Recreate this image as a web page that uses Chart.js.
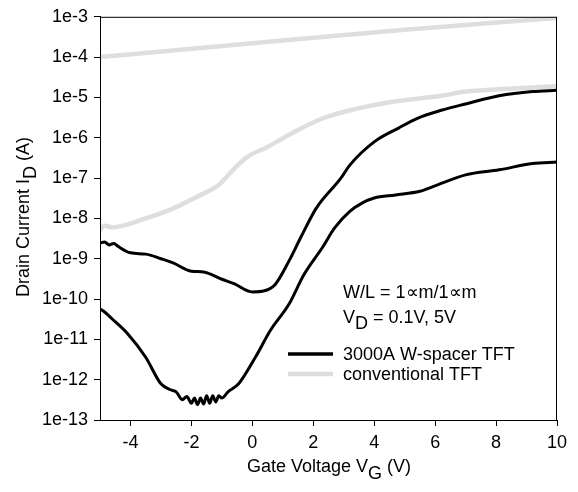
<!DOCTYPE html>
<html>
<head>
<meta charset="utf-8">
<script src="https://cdn.jsdelivr.net/npm/chart.js@4.4.1/dist/chart.umd.min.js"></script>
<style>
  body { margin: 0; background: #fff; }
  canvas { display: block; }
</style>
</head>
<body>
<canvas id="idvg" width="578" height="492"></canvas>
<script>
// tick positions / labels
const xTickValues = [-4, -2, 0, 2, 4, 6, 8, 10];
const yTickValues = [1e-13, 1e-12, 1e-11, 1e-10, 1e-9, 1e-8, 1e-7, 1e-6, 1e-5, 1e-4, 1e-3];
const yTickLabels = ["1e-13", "1e-12", "1e-11", "1e-10", "1e-9", "1e-8", "1e-7", "1e-6", "1e-5", "1e-4", "1e-3"];

// 3000A W-spacer TFT, VD = 5V
const wsHighV = [-5, -4.85, -4.7, -4.55, -4.4, -4.0, -3.5, -3.0, -2.6, -2.0, -1.6, -1.0, -0.6, 0.0, 0.4, 0.75, 1.2, 1.6, 2.1, 2.9, 3.2, 4.0, 4.8, 5.4, 6.2, 7.0, 8.1, 9.2, 10];
const wsHighI = [2.45e-9, 2.6e-9, 2.2e-9, 2.4e-9, 2.0e-9, 1.4e-9, 1.3e-9, 1.0e-9, 7.9e-10, 4.9e-10, 4.7e-10, 3.1e-10, 2.4e-10, 1.5e-10, 1.6e-10, 2.3e-10, 8.7e-10, 3.5e-9, 1.8e-8, 9.8e-8, 2.1e-7, 7.9e-7, 1.74e-6, 3.0e-6, 4.8e-6, 6.9e-6, 1.1e-5, 1.4e-5, 1.5e-5];

// 3000A W-spacer TFT, VD = 0.1V
const wsLowV = [-5, -4.9, -4.6, -4.1, -3.5, -3.0, -2.65, -2.5, -2.3, -2.15, -2.0, -1.9, -1.8, -1.7, -1.6, -1.5, -1.4, -1.3, -1.2, -1.1, -1.0, -0.8, -0.45, 0.1, 0.6, 1.2, 1.7, 2.3, 2.7, 3.2, 3.6, 4.0, 4.7, 5.5, 5.95, 7.0, 8.1, 9.2, 10];
const wsLowI = [5.6e-11, 5.1e-11, 3.2e-11, 1.4e-11, 3.6e-12, 7.9e-13, 5.5e-13, 5.0e-13, 3.2e-13, 3.8e-13, 2.6e-13, 3.5e-13, 2.4e-13, 3.5e-13, 2.5e-13, 4.0e-13, 2.6e-13, 4.0e-13, 2.8e-13, 4.0e-13, 3.5e-13, 5.0e-13, 7.9e-13, 3.6e-12, 1.7e-11, 7.4e-11, 4.1e-10, 1.9e-9, 5.8e-9, 1.5e-8, 2.4e-8, 3.2e-8, 3.8e-8, 4.7e-8, 6.2e-8, 1.2e-7, 1.6e-7, 2.3e-7, 2.5e-7];

// conventional TFT, VD = 5V
const convHighV = [-5, 0, 5, 10];
const convHighI = [1.0e-4, 2.2e-4, 4.8e-4, 9.3e-4];

// conventional TFT, VD = 0.1V
const convLowV = [-5, -4.85, -4.6, -3.5, -2.65, -1.9, -1.1, -0.6, -0.15, 0.5, 1.3, 2.3, 3.4, 4.5, 6.2, 7.0, 8.1, 10];
const convLowI = [5.2e-9, 6.6e-9, 6.0e-9, 1.0e-8, 1.7e-8, 3.2e-8, 6.8e-8, 1.7e-7, 3.4e-7, 5.9e-7, 1.3e-6, 3.0e-6, 5.2e-6, 7.6e-6, 1.1e-5, 1.4e-5, 1.6e-5, 1.9e-5];

const legendLabels = ["3000A W-spacer TFT", "conventional TFT"];
const black = "#000000";
const grey = "#dedede";
const FONT = "'Liberation Sans', Arial, sans-serif";

function pts(xs, ys) {
    return xs.map((x, i) => ({ x: x, y: ys[i] }));
}

function curve(xs, ys, color, width) {
    return {
        data: pts(xs, ys),
        borderColor: color,
        borderWidth: width,
        pointRadius: 0,
        cubicInterpolationMode: "monotone",
        borderJoinStyle: "round",
        borderCapStyle: "round",
        fill: false,
    };
}

// text with a subscript part, e.g. V + D
function subText(ctx, parts, x, y, align) {
    ctx.save();
    ctx.textBaseline = "alphabetic";
    ctx.textAlign = "left";
    let total = 0;
    parts.forEach((p) => {
        ctx.font = p.size + "px " + FONT;
        total += ctx.measureText(p.t).width;
    });
    let cx = align === "center" ? x - total / 2 : x;
    parts.forEach((p) => {
        ctx.font = p.size + "px " + FONT;
        ctx.fillText(p.t, cx, y + (p.dy || 0));
        cx += ctx.measureText(p.t).width;
    });
    ctx.restore();
}

const decorations = {
    id: "decorations",
    afterDraw(chart) {
        const ctx = chart.ctx;
        const a = chart.chartArea;
        ctx.save();
        // frame
        ctx.strokeStyle = "#000";
        ctx.lineWidth = 1;
        ctx.strokeRect(a.left + 0.5, a.top + 0.5, a.right - a.left - 1, a.bottom - a.top);
        ctx.fillStyle = "#000";

        // x title
        subText(ctx, [
            { t: "Gate Voltage V", size: 18 },
            { t: "G", size: 18, dy: 7 },
            { t: " (V)", size: 18 },
        ], 329, 472, "center");

        // y title
        ctx.save();
        ctx.translate(29, 217);
        ctx.rotate(-Math.PI / 2);
        subText(ctx, [
            { t: "Drain Current I", size: 18 },
            { t: "D", size: 18, dy: 7 },
            { t: " (A)", size: 18 },
        ], 0, 0, "center");
        ctx.restore();

        // annotation
        subText(ctx, [{ t: "W/L = 1\u221Dm/1\u221Dm", size: 18 }], 343, 298, "left");
        subText(ctx, [
            { t: "V", size: 18 },
            { t: "D", size: 18, dy: 6 },
            { t: " = 0.1V, 5V", size: 18 },
        ], 343, 323, "left");

        // legend
        ctx.lineCap = "butt";
        ctx.strokeStyle = black;
        ctx.lineWidth = 3.5;
        ctx.beginPath();
        ctx.moveTo(288, 354);
        ctx.lineTo(333, 354);
        ctx.stroke();
        ctx.strokeStyle = grey;
        ctx.lineWidth = 4.5;
        ctx.beginPath();
        ctx.moveTo(288, 374);
        ctx.lineTo(333, 374);
        ctx.stroke();
        subText(ctx, [{ t: legendLabels[0], size: 18 }], 343, 360, "left");
        subText(ctx, [{ t: legendLabels[1], size: 18 }], 343, 380, "left");
        ctx.restore();
    },
};

new Chart(document.getElementById("idvg").getContext("2d"), {
    type: "line",
    data: {
        datasets: [
            curve(wsHighV, wsHighI, black, 3),
            curve(wsLowV, wsLowI, black, 3),
            curve(convHighV, convHighI, grey, 4.5),
            curve(convLowV, convLowI, grey, 4.5),
        ],
    },
    options: {
        responsive: false,
        animation: false,
        devicePixelRatio: 1,
        layout: { padding: { left: 0, top: 14, right: 21, bottom: 0 } },
        plugins: {
            legend: { display: false },
            tooltip: { enabled: false },
        },
        scales: {
            x: {
                type: "linear",
                min: -5,
                max: 10,
                afterBuildTicks: (scale) => {
                    scale.ticks = xTickValues.map((v) => ({ value: v }));
                },
                afterFit: (scale) => {
                    scale.height = 72;
                },
                ticks: {
                    color: "#000",
                    font: { family: FONT, size: 18 },
                    padding: 6,
                    maxRotation: 0,
                    autoSkip: false,
                },
                grid: {
                    drawOnChartArea: false,
                    tickLength: 6,
                    color: "#000",
                },
                border: { color: "#000" },
            },
            y: {
                type: "logarithmic",
                min: 1e-13,
                max: 1e-3,
                afterBuildTicks: (scale) => {
                    scale.ticks = yTickValues.map((v) => ({ value: v }));
                },
                afterFit: (scale) => {
                    scale.width = 100;
                },
                ticks: {
                    color: "#000",
                    font: { family: FONT, size: 18 },
                    padding: 6,
                    autoSkip: false,
                    callback: (value) => {
                        const i = yTickValues.findIndex((v) => Math.abs(Math.log10(v) - Math.log10(value)) < 1e-6);
                        return i >= 0 ? yTickLabels[i] : "";
                    },
                },
                grid: {
                    drawOnChartArea: false,
                    tickLength: 6,
                    color: "#000",
                },
                border: { color: "#000" },
            },
        },
    },
    plugins: [decorations],
});
</script>
</body>
</html>
